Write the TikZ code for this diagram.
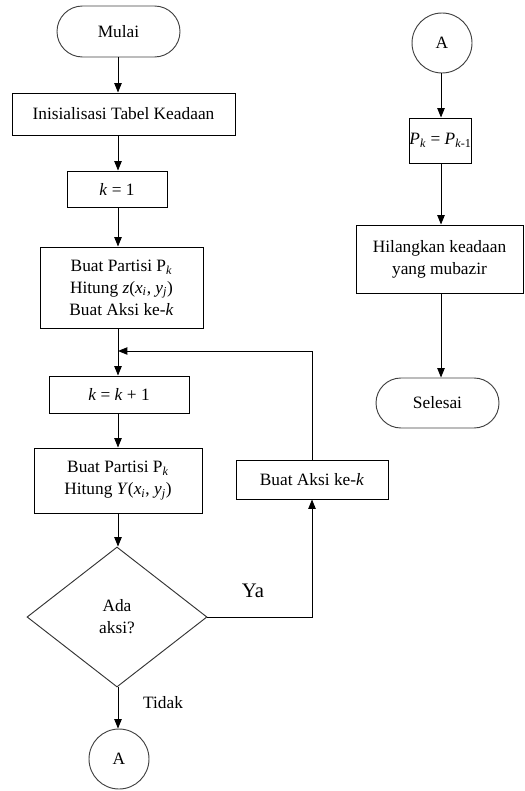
\documentclass[tikz,border=0pt]{standalone}
\usepackage{fontspec}
\setmainfont{Liberation Serif}
\usetikzlibrary{shapes.geometric,shapes.misc,arrows.meta}
\def\u{0.75pt}
\begin{document}
\begin{tikzpicture}[x=0.75pt,y=-0.75pt,
  every node/.style={font=\fontsize{13}{16.5}\selectfont},
  proc/.style={draw=black,line width=0.7pt,rectangle,align=center,inner sep=0pt},
  term/.style={draw=black!75,line width=0.7pt,rounded rectangle,align=center,inner sep=0pt},
  conn/.style={draw=black!75,line width=0.7pt,circle,inner sep=0pt,minimum size=60*\u},
  dec/.style={draw=black!80,line width=0.7pt,diamond,align=center,inner sep=0pt},
  arr/.style={line width=0.7pt,-{Triangle[length=7pt,width=5.5pt]}}]
\useasboundingbox (0,0) rectangle (524,791);
% left column
\node[term,minimum width=123*\u,minimum height=51*\u] (mulai) at (118.5,31.5) {Mulai};
\node[proc,minimum width=223*\u,minimum height=42*\u] (init) at (123.5,114) {Inisialisasi Tabel Keadaan};
\node[proc,minimum width=100*\u,minimum height=36*\u] (k1) at (117,189) {\textit{k} = 1};
\node[proc,minimum width=163*\u,minimum height=81*\u] (bp1) at (121.5,287.5) {Buat Partisi P\textsubscript{\textit{k}}\\Hitung \textit{z}(\textit{x}\textsubscript{\textit{i}}, \textit{y}\textsubscript{\textit{j}})\\Buat Aksi ke-\textit{k}};
\node[proc,minimum width=140*\u,minimum height=37*\u] (kk) at (119,394.5) {\textit{k} = \textit{k} + 1};
\node[proc,minimum width=168*\u,minimum height=65*\u] (bp2) at (118,480.5) {Buat Partisi P\textsubscript{\textit{k}}\\Hitung \textit{Y}(\textit{x}\textsubscript{\textit{i}}, \textit{y}\textsubscript{\textit{j}})};
\node[dec,minimum width=180*\u,minimum height=140*\u] (dia) at (117,617) {Ada\\aksi?};
\node[conn] (a1) at (119,759) {A};
\node[proc,minimum width=152*\u,minimum height=39*\u] (aksi) at (312,479.5) {Buat Aksi ke-\textit{k}};
\coordinate (j) at (118,351);
% right column
\node[conn] (a2) at (442,43) {A};
\node[proc,minimum width=55*\u,minimum height=45*\u] (pk) at (440.5,140.5) {\textit{P}\textsubscript{\textit{k}} = \textit{P}\textsubscript{\textit{k}-1}};
\node[proc,minimum width=167*\u,minimum height=68*\u] (hil) at (439.5,259) {Hilangkan keadaan\\yang mubazir};
\node[term,minimum width=123*\u,minimum height=50*\u] (sel) at (437.5,403) {Selesai};
% labels
\node[font=\fontsize{15.5}{18}\selectfont] (ya) at (253,591) {Ya};
\node (tidak) at (163,703) {Tidak};
% connectors
\draw[arr] (mulai.south -| 118,0) -- (init.north -| 118,0);
\draw[arr] (init.south -| 118,0) -- (k1.north -| 118,0);
\draw[arr] (k1.south -| 118,0) -- (bp1.north -| 118,0);
\draw[arr] (bp1.south -| 118,0) -- (kk.north -| 118,0);
\draw[arr] (kk.south -| 118,0) -- (bp2.north -| 118,0);
\draw[arr] (bp2.south -| 118,0) -- (dia.north -| 118,0);
\draw[arr] (dia.south -| 118,0) -- (a1.north -| 118,0);
\draw[arr] (dia.east) -| (aksi.south);
\draw[arr] (aksi.north) |- (j);
\draw[arr] (a2.south -| 441,0) -- (pk.north -| 441,0);
\draw[arr] (pk.south -| 441,0) -- (hil.north -| 441,0);
\draw[arr] (hil.south -| 441,0) -- (sel.north -| 441,0);
\end{tikzpicture}
\end{document}
